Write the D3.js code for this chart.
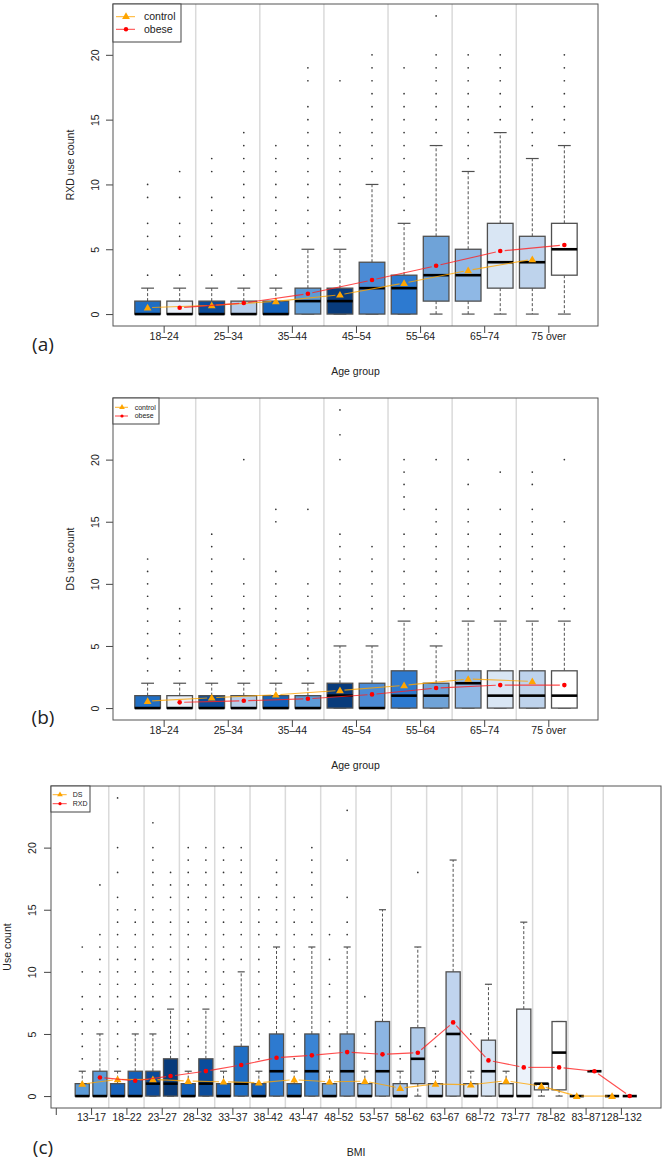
<!DOCTYPE html>
<html><head><meta charset="utf-8">
<script src="https://cdn.jsdelivr.net/npm/d3@7"></script>
<style>
body{margin:0;background:#fff}
svg{display:block}
text{font-family:"Liberation Sans",Arial,Helvetica,sans-serif;fill:#222}
</style>
</head><body>
<svg id="chart" width="665" height="1161"></svg>
<script>
// ---------------- Panel (a): RXD use count by age group ----------------
const ageGroups = ["18–24","25–34","35–44","45–54","55–64","65–74","75 over"];
// boxes alternate: control, obese for each age group
const aQ1   = [0,0,0,0,0,0,0,0,0,1,1,2,2,3];
const aMed  = [0,0,0,0,0,1,1,2,2,3,3,4,4,5];
const aQ3   = [1,1,1,1,1,2,2,4,3,6,5,7,6,7];
const aLo   = [0,0,0,0,0,0,0,0,0,0,0,0,0,0];
const aHi   = [2,2,2,2,2,5,5,10,7,13,11,14,12,13];
const aMean = [0.49,0.49,0.67,0.85,0.98,1.57,1.49,2.63,2.39,3.73,3.37,4.86,4.22,5.33];
const aOut  = [
  [3,5,6,7,9,10],
  [3,5,6,7,9,11],
  [3,5,6,7,8,9,11,12],
  [3,5,6,7,8,9,10,11,12,13,14],
  [3,5,6,7,8,9,10,11,12,13],
  [6,7,8,9,10,11,12,13,14,15,16,18,19],
  [6,7,8,9,10,11,12,13,14,18],
  [11,12,13,14,15,16,17,18,19,20],
  [8,9,10,11,12,13,14,15,16,17,19],
  [14,15,16,17,18,19,20,23],
  [12,13,14,15,16,17,18,19,20],
  [15,16,17,18,19,20],
  [13,14,15,16],
  [14,15,16,17,18,19,20]
];

// ---------------- Panel (b): DS use count by age group ----------------
const bQ1   = [0,0,0,0,0,0,0,0,0,0,0,0,0,0];
const bMed  = [0,0,0,0,0,0,1,0,1,1,2,1,1,1];
const bQ3   = [1,1,1,1,1,1,2,2,3,2,3,3,3,3];
const bLo   = [0,0,0,0,0,0,0,0,0,0,0,0,0,0];
const bHi   = [2,2,2,2,2,2,5,5,7,5,7,7,7,7];
const bMean = [0.56,0.46,0.83,0.59,1.07,0.75,1.42,1.1,1.83,1.61,2.34,1.85,2.15,1.85];
const bOut  = [
  [3,4,5,6,7,8,9,10,11,12],
  [3,4,5,6,7,8],
  [3,4,5,6,7,8,9,10,11,12,13,14],
  [3,4,5,6,7,8,9,10,12,20],
  [3,4,5,6,7,8,9,10,11,15,16],
  [3,4,5,6,7,8,9,10,16],
  [6,7,8,9,10,11,12,13,14,20,22,24],
  [6,7,8,9,10,11,12,13],
  [8,9,10,11,12,13,14,16,17,18,19,20],
  [6,7,8,9,10,11,12,13,14,15,16,20],
  [8,9,10,11,12,13,14,15,16,18,20],
  [8,9,10,11,12,13,14,16,19],
  [8,9,10,11,12,13,14,15,16,18,19],
  [8,9,10,11,12,13,15,20]
];

// ---------------- Panel (c): use count by BMI ----------------
const bmiGroups = ["13–17","18–22","23–27","28–32","33–37","38–42","43–47","48–52","53–57","58–62","63–67","68–72","73–77","78–82","83–87","128–132"];
// boxes alternate: DS, RXD for each BMI group
const cQ1   = [0,0,0,0,0,0,0,0,0,0,0,0,0,0,0,0,0,0,0,1,0,0,0,0,0,0,0.5,0.5,0,2,0,0];
const cMed  = [0,0,0,0,1,1,0,1,0,1,0,2,0,2,0,2,0,2,0,3,0,5,0,2,0,0,1,3.5,0,2,0,0];
const cQ3   = [1,2,1,2,2,3,1,3,1,4,1,5,1,5,1,5,1,6,1,5.5,1,10,1,4.5,1,7,1,6,0,2,0,0];
const cLo   = [0,0,0,0,0,0,0,0,0,0,0,0,0,0,0,0,0,0,0,0,0,0,0,0,0,0,0,0,0,2,0,0];
const cHi   = [2,5,2,5,5,7,2,7,2,10,2,12,2,12,2,12,2,15,2,12,2,19,2,9,2,14,1,6,0,2,0,0];
const cMean = [0.97,1.5, 1.34,1.23, 1.34,1.61, 1.21,2.01, 1.15,2.5, 1.07,3.09, 1.32,3.28, 1.15,3.54,
               1.2,3.36, 0.64,3.49, 0.97,5.93, 0.91,2.87, 1.23,2.31, 0.8,2.31, 0,2.0, 0,0];
const cOut  = [
  [3,4,5,6,7,8,10,12],
  [6,7,8,9,10,11,12,13,17],
  [3,4,5,6,7,8,9,10,11,12,13,14,15,16,18,20,24],
  [6,7,8,9,10,11,12,13,14,15],
  [6,7,8,9,10,11,12,13,14,15,16,17,18,19,20,22],
  [8,9,10,11,12,13,14,15,16,17,18],
  [3,4,5,6,7,8,9,10,11,12,13,14,15,16,17,18,19,20],
  [8,9,10,11,12,13,14,15,16,17,18,19,20],
  [3,4,5,6,7,8,9,10,11,12,13,14,15,16,17,18,19,20],
  [11,12,13,14,15,16,17,18,19,20],
  [3,4,5,6,7,8,9,10,11,12,13,14,15,16],
  [13,14,15,16,17,18,19],
  [3,4,5,6,7,8,9,10,11,12,13,14,15,16],
  [13,14,15,16,17,18,19,20],
  [3,4,5,6,8,9,11,13],
  [13,14,16,19,23],
  [3,4,5,8],
  [],
  [3,4],
  [18],
  [4,5],
  [],
  [5],
  [],[],[],[],[],[],[],[],[]
];

const yTicks = [0,5,10,15,20];

// fill colours (styles)
const ageFills = ["#1f6ec4","#e9f0f9","#0c4c9a","#b6cde9","#1562ba","#5d9bd7","#083b7b","#4b8bd5",
                  "#2d7ad0","#6fa3d8","#8fb8e5","#d9e6f4","#bed3ec","#ffffff"];
const bmiFills = ["#5b9ad7","#5b9ad7","#1863bc","#1560b8","#0c4a98","#083b7b","#1562ba","#0b4d9c",
                  "#1863bc","#1f6ec4","#1863bc","#2d7ad0","#1f6ec4","#3a84d4","#6a9fd6","#6b9bd0",
                  "#8fb8e5","#8cb5e3","#a9c6e8","#b0cbea","#c6d9ef","#c0d4ee","#dde8f5","#d6e4f4",
                  "#e9f1fa","#ebf2fa","#f4f8fc","#ffffff","#ffffff","#ffffff","#ffffff","#ffffff"];

const svg = d3.select("#chart");
const tri = d3.symbol().type(d3.symbolTriangle).size(26);

function drawMarker(g, kind, cx, cy) {
  if (kind === "tri") {
    g.append("path").attr("d", tri()).attr("transform", `translate(${cx},${cy + 0.6})`).attr("fill", "#FFA500");
  } else {
    g.append("circle").attr("cx", cx).attr("cy", cy).attr("r", 2.3).attr("fill", "#FF0000");
  }
}

function drawPanel(o) {
  const g = svg.append("g");
  const x = d3.scaleLinear().domain(o.xDomain).range([o.left, o.right]);
  const y = d3.scaleLinear().domain(o.yDomain).range([o.bottom, o.top]);

  // group separators
  o.separators.forEach(s => {
    g.append("line").attr("x1", x(s)).attr("x2", x(s)).attr("y1", o.top).attr("y2", o.bottom)
      .attr("stroke", "#dadada").attr("stroke-width", 1.5);
  });

  const n = o.med.length;
  const half = 0.4, cap = 0.2;
  const stroke = "#505050";
  for (let i = 0; i < n; i++) {
    const p = i + 1;
    // whiskers
    if (o.hi[i] > o.q3[i]) {
      g.append("line").attr("x1", x(p)).attr("x2", x(p)).attr("y1", y(o.q3[i])).attr("y2", y(o.hi[i]))
        .attr("stroke", stroke).attr("stroke-dasharray", "3,2");
    }
    if (o.lo[i] < o.q1[i]) {
      g.append("line").attr("x1", x(p)).attr("x2", x(p)).attr("y1", y(o.q1[i])).attr("y2", y(o.lo[i]))
        .attr("stroke", stroke).attr("stroke-dasharray", "3,2");
    }
    [o.hi[i], o.lo[i]].forEach(v => {
      g.append("line").attr("x1", x(p - cap)).attr("x2", x(p + cap)).attr("y1", y(v)).attr("y2", y(v))
        .attr("stroke", stroke).attr("stroke-width", 1.2);
    });
    // box
    g.append("rect").attr("x", x(p - half)).attr("width", x(p + half) - x(p - half))
      .attr("y", y(o.q3[i])).attr("height", Math.max(0, y(o.q1[i]) - y(o.q3[i])))
      .attr("fill", o.fills[i]).attr("stroke", stroke).attr("stroke-width", 1.3);
    // median
    g.append("line").attr("x1", x(p - half)).attr("x2", x(p + half)).attr("y1", y(o.med[i])).attr("y2", y(o.med[i]))
      .attr("stroke", "#000").attr("stroke-width", 2.6);
    // outliers
    o.out[i].forEach(v => {
      g.append("circle").attr("cx", x(p)).attr("cy", y(v)).attr("r", 0.85).attr("fill", "#333");
    });
  }

  // mean lines (type "b": segments with gaps) and markers
  [[0, o.color0, "tri"], [1, o.color1, "dot"]].forEach(([off, col, kind]) => {
    const pts = [];
    for (let i = off; i < n; i += 2) pts.push([x(i + 1), y(o.mean[i])]);
    for (let k = 0; k < pts.length - 1; k++) {
      const [x1, y1] = pts[k], [x2, y2] = pts[k + 1];
      const len = Math.hypot(x2 - x1, y2 - y1), gap = 4.5;
      if (len <= 2 * gap) continue;
      const ux = (x2 - x1) / len, uy = (y2 - y1) / len;
      g.append("line").attr("x1", x1 + ux * gap).attr("y1", y1 + uy * gap)
        .attr("x2", x2 - ux * gap).attr("y2", y2 - uy * gap)
        .attr("stroke", col).attr("stroke-width", 1.1).attr("stroke-opacity", 0.8);
    }
    pts.forEach(([px, py]) => drawMarker(g, kind, px, py));
  });

  // y axis
  const ya = g.append("g").attr("transform", `translate(${o.left},0)`)
    .call(d3.axisLeft(y).tickValues(yTicks).tickSize(7).tickFormat(d3.format("d")));
  ya.select(".domain").remove();
  ya.selectAll(".tick line").attr("stroke", "#444");
  ya.selectAll(".tick text").attr("x", 0).attr("dy", 0).attr("text-anchor", "middle")
    .attr("transform", `translate(${-o.yLabOff},0) rotate(-90)`)
    .style("font-size", "10.5px").style("font-family", "Liberation Sans, Arial, sans-serif").attr("fill", "#222");

  // x axis
  const xa = g.append("g").attr("transform", `translate(0,${o.bottom})`)
    .call(d3.axisBottom(x).tickValues(o.xTickVals).tickSize(7).tickFormat((d, i) => o.xTickLabels[i]));
  xa.select(".domain").remove();
  xa.selectAll(".tick line").attr("stroke", "#444");
  xa.selectAll(".tick text").attr("y", o.xLabBase).attr("dy", 0)
    .style("font-size", "10.5px").style("font-family", "Liberation Sans, Arial, sans-serif").attr("fill", "#222");

  // plot frame
  g.append("rect").attr("x", o.left).attr("y", o.top).attr("width", o.right - o.left).attr("height", o.bottom - o.top)
    .attr("fill", "none").attr("stroke", "#555").attr("stroke-width", 1);

  // axis titles
  g.append("text").attr("transform", `translate(${o.yTitleX},${(o.top + o.bottom) / 2}) rotate(-90)`)
    .attr("text-anchor", "middle").attr("dy", "0.35em").style("font-size", "10.5px").text(o.yTitle);
  g.append("text").attr("x", (o.left + o.right) / 2).attr("y", o.xTitleY)
    .attr("text-anchor", "middle").style("font-size", "10.5px").text(o.xTitle);

  // panel tag
  g.append("text").attr("x", o.tag[1]).attr("y", o.tag[2]).attr("text-anchor", "middle")
    .style("font-family", "Open Sans, Lato, sans-serif").style("font-size", "19px").text(o.tag[0]);

  // legend
  const L = o.legend;
  g.append("rect").attr("x", o.left).attr("y", o.top).attr("width", L.w).attr("height", L.h)
    .attr("fill", "#fff").attr("stroke", "#444").attr("stroke-width", 1);
  L.items.forEach((it, k) => {
    const ly = o.top + L.y0 + k * L.dy;
    g.append("line").attr("x1", o.left + L.lx1).attr("x2", o.left + L.lx2).attr("y1", ly).attr("y2", ly)
      .attr("stroke", it.col).attr("stroke-width", 1).attr("stroke-opacity", 0.85);
    if (it.kind === "tri") {
      g.append("path").attr("d", d3.symbol().type(d3.symbolTriangle).size(L.tri)())
        .attr("transform", `translate(${o.left + L.mx},${ly})`).attr("fill", "#FFA500");
    } else {
      g.append("circle").attr("cx", o.left + L.mx).attr("cy", ly).attr("r", L.r).attr("fill", "#FF0000");
    }
    g.append("text").attr("x", o.left + L.tx).attr("y", ly).attr("dy", "0.35em")
      .style("font-size", L.fs + "px").text(it.label);
  });
}

const ageTickVals = ageGroups.map((d, i) => 1.5 + 2 * i);
const ageSeps = ageGroups.slice(1).map((d, i) => 2.5 + 2 * i);

drawPanel({
  left: 113, right: 598, top: 4, bottom: 326,
  xDomain: [-0.08, 15.05], yDomain: [-0.92, 23.92],
  q1: aQ1, med: aMed, q3: aQ3, lo: aLo, hi: aHi, mean: aMean, out: aOut, fills: ageFills,
  color0: "#FFA500", color1: "#FF2020",
  separators: ageSeps, xTickVals: ageTickVals, xTickLabels: ageGroups,
  yLabOff: 14, xLabBase: 14,
  yTitle: "RXD use count", yTitleX: 70, xTitle: "Age group", xTitleY: 375,
  tag: ["(a)", 43, 351],
  legend: { w: 68, h: 38, y0: 12.7, dy: 12.6, lx1: 3, lx2: 22, mx: 13, tx: 31, fs: 10.5, tri: 26, r: 2.2,
    items: [{label: "control", col: "#FFA500", kind: "tri"}, {label: "obese", col: "#FF2020", kind: "dot"}] }
});

drawPanel({
  left: 113, right: 598, top: 398, bottom: 720,
  xDomain: [-0.08, 15.05], yDomain: [-0.96, 24.96],
  q1: bQ1, med: bMed, q3: bQ3, lo: bLo, hi: bHi, mean: bMean, out: bOut, fills: ageFills,
  color0: "#FFA500", color1: "#FF2020",
  separators: ageSeps, xTickVals: ageTickVals, xTickLabels: ageGroups,
  yLabOff: 14, xLabBase: 14,
  yTitle: "DS use count", yTitleX: 70, xTitle: "Age group", xTitleY: 769,
  tag: ["(b)", 43, 724],
  legend: { w: 46, h: 26, y0: 9.3, dy: 8.7, lx1: 2, lx2: 15, mx: 9, tx: 21.7, fs: 7, tri: 14, r: 1.6,
    items: [{label: "control", col: "#FFA500", kind: "tri"}, {label: "obese", col: "#FF2020", kind: "dot"}] }
});

drawPanel({
  left: 51, right: 661, top: 786, bottom: 1108,
  xDomain: [-0.77, 33.77], yDomain: [-0.96, 24.96],
  q1: cQ1, med: cMed, q3: cQ3, lo: cLo, hi: cHi, mean: cMean, out: cOut, fills: bmiFills,
  color0: "#FFA500", color1: "#FF2020",
  separators: bmiGroups.slice(1).map((d, i) => 2.5 + 2 * i),
  xTickVals: [-0.5].concat(bmiGroups.map((d, i) => 1.5 + 2 * i)),
  xTickLabels: [""].concat(bmiGroups),
  yLabOff: 15.5, xLabBase: 13,
  yTitle: "Use count", yTitleX: 7.5, xTitle: "BMI", xTitleY: 1156,
  tag: ["(c)", 43, 1154],
  legend: { w: 39, h: 26, y0: 8.7, dy: 9, lx1: 1.7, lx2: 15.7, mx: 9, tx: 21.7, fs: 7, tri: 14, r: 1.6,
    items: [{label: "DS", col: "#FFA500", kind: "tri"}, {label: "RXD", col: "#FF2020", kind: "dot"}] }
});
</script>
</body></html>
